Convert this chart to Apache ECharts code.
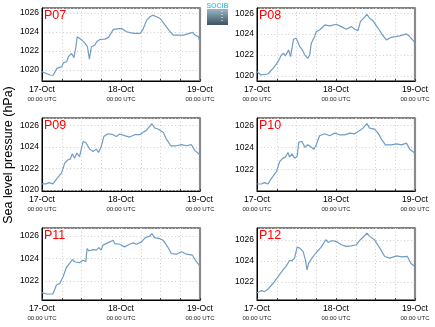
<!DOCTYPE html>
<html><head><meta charset="utf-8">
<script src="https://cdn.jsdelivr.net/npm/echarts@6/dist/echarts.min.js"></script>
<style>html,body{margin:0;padding:0;background:#fff}#c{width:435px;height:327px}</style>
</head><body><div id="c"></div>
<script>
// ---- data ----
const stations = ['P07', 'P08', 'P09', 'P10', 'P11', 'P12'];
const dayLabels = { 0: '17-Oct', 24: '18-Oct', 48: '19-Oct' };
const timeLabel = '00:00 UTC';
const yAxisTitle = 'Sea level pressure (hPa)';

// [hours since 17-Oct 00:00 UTC, pressure hPa]
const P07 = [[0,1019.82],[2.4,1019.48],[3.4,1019.45],[4.5,1020.17],[6.0,1020.35],[6.5,1020.77],[7.5,1020.87],[8.0,1021.4],[9.0,1021.74],[9.5,1021.81],[9.7,1021.3],[10.3,1022.44],[10.7,1023.49],[11.2,1023.56],[12.1,1023.14],[13.1,1022.79],[13.8,1022.44],[14.4,1021.15],[15.0,1022.44],[16.1,1022.62],[16.6,1022.97],[17.6,1023.21],[19.1,1023.24],[20.2,1023.42],[21.7,1024.26],[24.2,1024.36],[25.7,1024.01],[27.8,1023.84],[29.8,1023.84],[30.6,1024.19],[31.8,1025.23],[32.8,1025.58],[33.6,1025.75],[34.8,1025.58],[35.9,1025.4],[37.4,1024.71],[38.9,1024.01],[39.9,1023.66],[43.0,1023.66],[45.8,1023.94],[46.5,1023.66],[47.5,1023.49],[48,1022.96]];
const P08 = [[0,1020.41],[1.3,1020.1],[3.3,1020.19],[4.9,1020.73],[6.4,1021.37],[6.9,1021.44],[7.4,1022.0],[8.1,1022.17],[8.6,1021.92],[9.2,1022.23],[9.6,1022.49],[10.2,1021.85],[10.6,1022.0],[11.1,1023.51],[11.9,1023.61],[12.5,1023.45],[13.0,1022.81],[13.8,1022.49],[14.5,1022.0],[15.5,1021.69],[16.0,1022.0],[16.5,1023.13],[17.5,1023.77],[18.0,1024.24],[19.0,1024.4],[20.6,1024.88],[22.1,1024.79],[24.1,1024.95],[25.6,1024.72],[27.1,1024.47],[28.7,1024.72],[29.7,1024.47],[30.7,1024.34],[31.4,1025.2],[32.7,1025.62],[33.4,1025.9],[34.2,1025.52],[35.2,1025.3],[36.8,1024.56],[38.1,1023.93],[39.3,1023.45],[40.8,1023.7],[43.4,1023.83],[45.4,1024.02],[46.4,1023.77],[48,1023.19]];
const P09 = [[0,1020.56],[1.3,1020.56],[2.1,1020.68],[3.3,1020.56],[4.4,1021.0],[5.9,1021.55],[6.9,1022.49],[7.9,1022.8],[8.6,1022.86],[9.2,1023.36],[9.9,1022.95],[10.6,1023.42],[11.4,1023.1],[11.9,1023.1],[12.5,1024.5],[13.3,1024.41],[13.8,1024.5],[14.5,1023.79],[15.5,1023.57],[16.5,1023.79],[17.2,1023.48],[18.0,1024.04],[18.8,1024.97],[20.0,1025.22],[21.6,1025.13],[22.6,1024.97],[23.6,1025.19],[25.1,1025.04],[26.6,1024.91],[28.2,1025.13],[29.7,1025.13],[30.7,1025.35],[31.7,1025.53],[32.7,1025.91],[33.4,1026.15],[34.2,1025.75],[35.2,1025.66],[36.8,1025.35],[37.8,1024.72],[39.1,1024.1],[40.8,1024.1],[42.4,1024.2],[43.9,1024.1],[45.4,1024.2],[46.4,1023.67],[48,1023.26]];
const P10 = [[0,1020.72],[1.3,1020.72],[2.3,1020.84],[3.3,1020.72],[4.4,1021.23],[5.9,1021.83],[6.9,1022.74],[7.9,1023.04],[8.6,1023.13],[9.4,1023.55],[9.9,1023.13],[10.6,1023.43],[11.4,1023.04],[12.2,1023.19],[12.7,1024.48],[13.7,1024.54],[14.5,1024.03],[15.5,1024.24],[16.5,1024.03],[17.3,1023.85],[18.0,1024.24],[19.0,1025.05],[20.6,1025.23],[22.1,1025.05],[23.6,1025.29],[25.1,1025.14],[26.6,1025.14],[28.2,1025.29],[29.7,1025.23],[31.2,1025.53],[32.2,1025.74],[33.4,1026.14],[34.2,1025.74],[35.7,1025.65],[36.8,1025.29],[37.8,1024.75],[39.0,1024.24],[40.8,1024.24],[42.4,1024.33],[43.9,1024.24],[45.4,1024.39],[46.4,1023.85],[48,1023.49]];
const P11 = [[0,1020.97],[1.3,1020.85],[3.3,1020.85],[4.4,1021.65],[5.4,1021.79],[6.4,1022.38],[7.4,1023.2],[8.4,1023.56],[9.2,1023.91],[9.9,1023.71],[11.4,1023.62],[12.5,1023.85],[13.3,1023.71],[13.7,1024.88],[14.3,1024.68],[15.5,1024.79],[16.5,1024.74],[17.3,1024.97],[18.0,1024.74],[18.5,1025.18],[20.0,1025.38],[21.6,1025.62],[22.1,1025.32],[23.6,1025.26],[25.1,1025.03],[26.6,1025.26],[27.7,1025.38],[28.7,1025.26],[30.2,1025.47],[31.4,1025.85],[32.7,1025.97],[33.4,1026.2],[34.2,1025.85],[35.7,1025.76],[36.8,1025.62],[38.3,1024.97],[39.3,1024.44],[40.8,1024.38],[42.4,1024.59],[43.9,1024.38],[45.7,1024.29],[46.9,1023.71],[48,1023.32]];
const P12 = [[0,1020.96],[1.3,1021.15],[2.3,1021.06],[3.3,1021.28],[4.9,1021.86],[6.4,1022.5],[7.9,1023.14],[8.9,1023.52],[9.9,1024.03],[10.6,1024.03],[11.4,1024.26],[12.2,1025.31],[13.0,1025.22],[14.0,1024.9],[14.7,1024.1],[15.2,1023.14],[15.7,1023.78],[16.7,1024.26],[18.0,1024.8],[19.5,1025.31],[20.9,1026.02],[21.6,1025.76],[22.6,1025.92],[24.1,1025.86],[25.6,1025.54],[27.1,1025.38],[28.7,1025.44],[30.2,1025.54],[31.4,1026.02],[32.7,1026.4],[33.4,1026.66],[34.2,1026.34],[35.7,1026.02],[37.3,1025.22],[38.8,1024.42],[40.3,1024.26],[42.4,1024.48],[43.9,1024.38],[45.7,1024.42],[46.7,1023.78],[48,1023.46]];
const seriesData = [P07, P08, P09, P10, P11, P12];
const yMin = [1018.85, 1019.52, 1019.9, 1020.09, 1020.32, 1020.26];
const yMax = [1026.5, 1026.5, 1026.68, 1026.65, 1026.7, 1027.14];

// ---- layout ----
const FONT = '"Liberation Sans", Arial, sans-serif';
const colLeft = [42, 257];
const rowTop = [8, 118, 228];
const rowH = [73, 73, 72];
const panelW = 158;
const gridLine = { show: true, lineStyle: { color: '#cfcfcf', type: [1, 2.5], width: 1 } };

const grids = [], xAxes = [], yAxes = [], series = [], titles = [];
stations.forEach((name, i) => {
  const c = i % 2, r = Math.floor(i / 2);
  grids.push({ left: colLeft[c], top: rowTop[r], width: panelW, height: rowH[r],
    show: true, borderColor: '#000', borderWidth: 1, backgroundColor: 'transparent' });
  xAxes.push({ type: 'value', gridIndex: i, min: 0, max: 48, interval: 6,
    axisLine: { show: true, lineStyle: { color: '#000', width: 1 } },
    axisTick: { show: true, inside: true, length: 2, lineStyle: { color: '#333' } },
    splitLine: gridLine,
    axisLabel: { show: true, margin: 3, showMinLabel: true, showMaxLabel: true,
      formatter: v => dayLabels[v] !== undefined ? '{a|' + dayLabels[v] + '}\n{b|' + timeLabel + '}' : '',
      rich: { a: { fontSize: 8.7, lineHeight: 11, color: '#000', fontFamily: FONT },
              b: { fontSize: 6, lineHeight: 8, color: '#222', fontFamily: FONT } } } });
  yAxes.push({ type: 'value', gridIndex: i, min: yMin[i], max: yMax[i], splitNumber: 4,
    axisLine: { show: true, lineStyle: { color: '#000', width: 1 } },
    axisTick: { show: false },
    splitLine: gridLine,
    axisLabel: { margin: 3, fontSize: 8.5, color: '#000', fontFamily: FONT,
      showMinLabel: false, showMaxLabel: false,
      formatter: v => (Math.abs(v - Math.round(v / 2) * 2) < 1e-6 ? String(Math.round(v)) : '') } });
  yAxes.push({ type: 'value', gridIndex: i, min: yMin[i], max: yMax[i], position: 'right',
    axisLine: { show: true, lineStyle: { color: '#8a8a8a', width: 2.2 } },
    axisTick: { show: false }, axisLabel: { show: false }, splitLine: { show: false } });
  series.push({ type: 'line', xAxisIndex: i, yAxisIndex: 2 * i, data: seriesData[i],
    showSymbol: false, symbol: 'none', lineStyle: { color: '#6f9cc6', width: 1.2 }, z: 3 });
  titles.push({ text: name, left: colLeft[c] + 2, top: rowTop[r] + 1, padding: 0,
    textStyle: { color: '#ff0000', fontSize: 12.5, fontWeight: 'normal', fontFamily: FONT } });
});

const chart = echarts.init(document.getElementById('c'), null, { renderer: 'canvas' });
chart.setOption({
  animation: false,
  backgroundColor: '#fff',
  title: titles,
  grid: grids, xAxis: xAxes, yAxis: yAxes, series: series,
  graphic: [
    { type: 'text', x: 9, y: 155, rotation: Math.PI / 2,
      style: { text: yAxisTitle, fontSize: 12.5, fontFamily: FONT, fill: '#000',
               textAlign: 'center', textVerticalAlign: 'middle' } },
    { type: 'group', x: 207, y: 3, children: [
      { type: 'text', x: 10.5, y: 0, style: { text: 'SOCIB', fontSize: 7, fontFamily: FONT,
        fontWeight: 'bold', fill: '#5cc6e0', textAlign: 'center', textVerticalAlign: 'top' } },
      { type: 'rect', shape: { x: 0, y: 6, width: 21, height: 16 },
        style: { fill: new echarts.graphic.LinearGradient(0, 0, 0, 1, [
          { offset: 0, color: '#9ab6c6' }, { offset: 1, color: '#3c5261' }]) } },
      { type: 'line', shape: { x1: 15, y1: 8, x2: 15, y2: 19 },
        style: { stroke: '#ffffff', lineWidth: 1, lineDash: [1, 2] } }
    ] }
  ]
});
</script>
</body></html>
